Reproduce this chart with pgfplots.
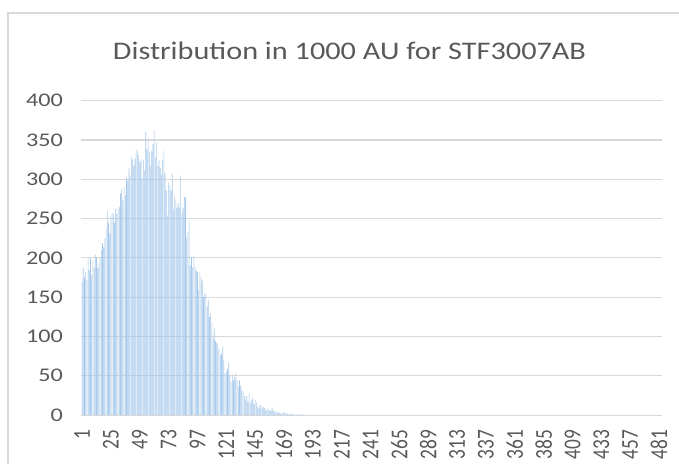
\documentclass[border=0pt]{standalone}
\usepackage{pgfplots}
\pgfplotsset{compat=1.18}
\usepackage{fontspec}
\setmainfont{Carlito}
\definecolor{barblue}{RGB}{165,200,235}
\definecolor{gridgray}{RGB}{217,217,217}
\definecolor{textgray}{RGB}{89,89,89}
\begin{document}
\begin{tikzpicture}
\begin{axis}[
    at={(0,0)}, anchor=south west,
    scale only axis,
    width=435.4pt, height=235.7pt,
    ybar, bar width=0.5,
    xmin=0.5, xmax=483.5,
    ymin=0, ymax=400,
    ytick={0,50,...,400},
    xtick={1,25,...,481},
    ymajorgrids,
    grid style={gridgray, line width=0.8pt},
    axis line style={draw=none},
    major tick length=0pt,
    tick label style={font=\fontsize{14.5}{16}\selectfont, text=textgray},
    yticklabel={\scalebox{1.25}[1]{\pgfmathprintnumber{\tick}}},
    yticklabel style={anchor=east, xshift=-10.5pt},
    xticklabel={\scalebox{1}[1.25]{\pgfmathprintnumber{\tick}}},
    xticklabel style={rotate=90, anchor=east, xshift=-7.5pt},
    /pgf/number format/assume math mode=true,
    clip=false,
]
\addplot[fill=barblue, draw=none] coordinates {
(1,170) (2,187) (3,175) (4,182) (5,172) (6,200) (7,185) (8,200) (9,178) (10,197)
(11,188) (12,204) (13,200) (14,187) (15,193) (16,201) (17,210) (18,219) (19,214) (20,225)
(21,238) (22,259) (23,245) (24,231) (25,254) (26,258) (27,256) (28,245) (29,262) (30,256)
(31,263) (32,265) (33,282) (34,287) (35,273) (36,290) (37,280) (38,302) (39,298) (40,314)
(41,305) (42,328) (43,325) (44,317) (45,326) (46,338) (47,336) (48,331) (49,322) (50,325)
(51,301) (52,325) (53,311) (54,360) (55,338) (56,353) (57,334) (58,317) (59,336) (60,345)
(61,363) (62,328) (63,347) (64,317) (65,324) (66,315) (67,306) (68,325) (69,336) (70,308)
(71,286) (72,254) (73,296) (74,292) (75,286) (76,307) (77,262) (78,279) (79,273) (80,264)
(81,270) (82,264) (83,305) (84,256) (85,263) (86,278) (87,277) (88,226) (89,233) (90,248)
(91,190) (92,201) (93,188) (94,202) (95,188) (96,184) (97,182) (98,159) (99,181) (100,175)
(101,171) (102,150) (103,154) (104,155) (105,138) (106,146) (107,125) (108,130) (109,118) (110,98)
(111,110) (112,94) (113,92) (114,90) (115,83) (116,76) (117,78) (118,87) (119,70) (120,53)
(121,55) (122,59) (123,66) (124,50) (125,42) (126,51) (127,44) (128,48) (129,54) (130,44)
(131,36) (132,44) (133,38) (134,32) (135,30) (136,24) (137,20) (138,24) (139,17) (140,28)
(141,15) (142,19) (143,22) (144,14) (145,19) (146,16) (147,10) (148,8) (149,12) (150,13)
(151,9) (152,10) (153,9) (154,6) (155,9) (156,7) (157,6) (158,5) (159,10) (160,6)
(161,3) (162,5) (163,4) (164,3) (165,3) (166,2) (167,2) (168,3) (169,3) (170,2)
(171,1) (172,2) (173,1) (174,2) (175,1) (176,1) (177,1) (178,0) (179,1) (180,1)
(181,0) (182,1) (183,1) (184,0) (185,1)
};
\end{axis}
% chart frame and title
\draw[gridgray, line width=0.8pt] (-55.1pt,-80pt) rectangle (470pt,301.5pt);
\node[anchor=base, text=textgray, inner sep=0pt]
    at (201pt,266.8pt) {\scalebox{1.195}[1]{\fontsize{19}{21}\selectfont Distribution in 1000 AU for STF3007AB}};
\pgfresetboundingbox
\useasboundingbox (-61.1pt,-36pt) rectangle (448.1pt,311.25pt);
\end{tikzpicture}
\end{document}
